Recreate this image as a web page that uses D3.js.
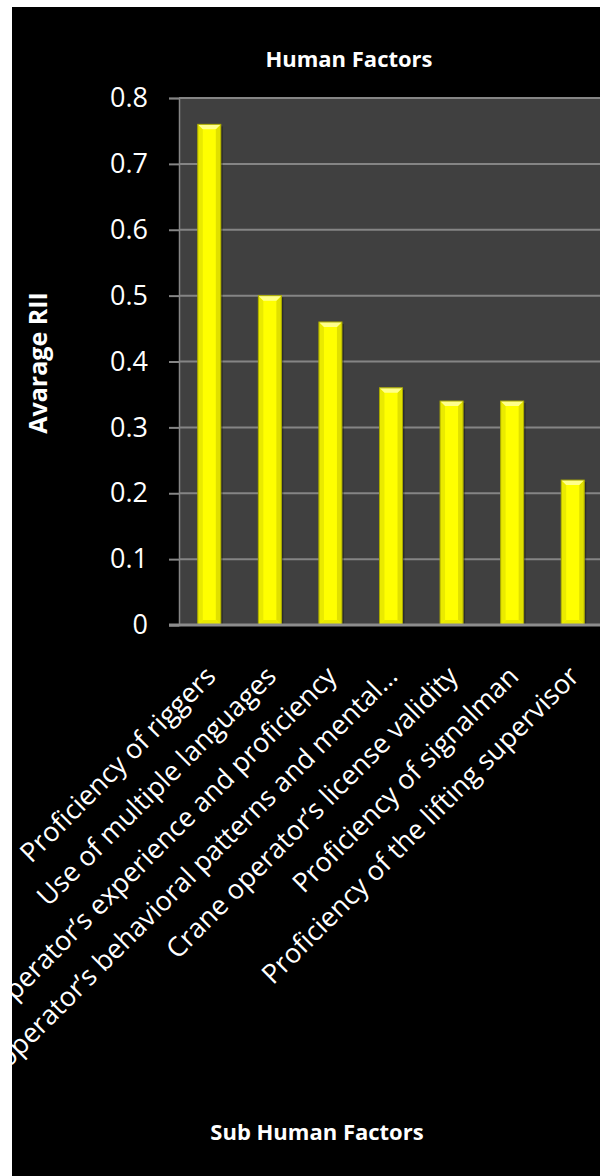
<!DOCTYPE html>
<html>
<head>
<meta charset="utf-8">
<script src="https://cdn.jsdelivr.net/npm/d3@7"></script>
<style>
  html, body { margin: 0; padding: 0; background: #fff; }
  svg { display: block; }
  text { font-family: "Open Sans", "DejaVu Sans", sans-serif; fill: #fff; }
</style>
</head>
<body>
<script>
// chart data
const categories = [
  "Proficiency of riggers",
  "Use of multiple languages",
  "Crane operator’s experience and proficiency",
  "Crane operator’s behavioral patterns and mental…",
  "Crane operator’s license validity",
  "Proficiency of signalman",
  "Proficiency of the lifting supervisor"
];
const avgRII = [0.76, 0.50, 0.46, 0.36, 0.34, 0.34, 0.22];
const yTicks = [0, 0.1, 0.2, 0.3, 0.4, 0.5, 0.6, 0.7, 0.8];

const chartTitle = "Human Factors";
const xTitle = "Sub Human Factors";
const yTitle = "Avarage RII";

const W = 600, H = 1176;
const plot = { left: 179, right: 603, top: 98, bottom: 625 };

var svg = d3.select("body").append("svg")
  .attr("width", W)
  .attr("height", H);

// chart area is black, white frame shows at the top and left
svg.append("clipPath").attr("id", "chart-clip")
  .append("rect")
  .attr("x", 12).attr("y", 7)
  .attr("width", W - 12).attr("height", H - 7);

svg.append("rect")
  .attr("x", 12).attr("y", 7)
  .attr("width", W - 12).attr("height", H - 7)
  .attr("fill", "#000");

var g = svg.append("g").attr("clip-path", "url(#chart-clip)");

var x = d3.scaleBand()
  .domain(categories)
  .range([plot.left, plot.right])
  .paddingInner(0.62)
  .paddingOuter(0.31);

var y = d3.scaleLinear()
  .domain([0, 0.8])
  .range([plot.bottom, plot.top]);

// plot area
g.append("rect")
  .attr("x", plot.left)
  .attr("y", plot.top)
  .attr("width", plot.right - plot.left)
  .attr("height", plot.bottom - plot.top)
  .attr("fill", "#404040");

// gridlines
g.append("g")
  .selectAll("line")
  .data(yTicks.filter(d => d > 0))
  .join("line")
  .attr("x1", plot.left)
  .attr("x2", plot.right)
  .attr("y1", d => y(d))
  .attr("y2", d => y(d))
  .attr("stroke", "#858585")
  .attr("stroke-width", 2);

// y axis
var yAxis = g.append("g")
  .attr("transform", "translate(" + plot.left + ",0)")
  .call(d3.axisLeft(y)
    .tickValues(yTicks)
    .tickFormat(d => d === 0 ? "0" : d3.format(".1f")(d))
    .tickSize(10)
    .tickPadding(21));
yAxis.select(".domain").attr("stroke", "#858585").attr("stroke-width", 1.5);
yAxis.selectAll(".tick line").attr("stroke", "#858585").attr("stroke-width", 2);
yAxis.selectAll(".tick text")
  .attr("fill", "#fff")
  .style("font-family", '"Open Sans", sans-serif')
  .style("font-size", "27px");

// bars, with a bevel like the excel style
var bw = x.bandwidth();
var bevel = 5;
var bars = g.append("g")
  .selectAll("g")
  .data(categories.map((c, i) => ({ cat: c, val: avgRII[i] })))
  .join("g")
  .attr("transform", d => "translate(" + x(d.cat) + "," + y(d.val) + ")");

bars.append("rect")
  .attr("x", 2).attr("y", 2)
  .attr("width", bw).attr("height", d => y(0) - y(d.val) - 2)
  .attr("fill", "#000").attr("opacity", 0.3);

bars.append("rect")
  .attr("width", bw)
  .attr("height", d => y(0) - y(d.val))
  .attr("fill", "#ffff00");

// side bevels
bars.append("polygon")
  .attr("points", d => {
    var h = y(0) - y(d.val);
    return [[0, 0], [bevel, bevel], [bevel, h - bevel], [0, h]].join(" ");
  })
  .attr("fill", "#eaea00");
bars.append("polygon")
  .attr("points", d => {
    var h = y(0) - y(d.val);
    return [[bw, 0], [bw - bevel, bevel], [bw - bevel, h - bevel], [bw, h]].join(" ");
  })
  .attr("fill", "#e0e000");
// top bevel
bars.append("polygon")
  .attr("points", [[0, 0], [bw, 0], [bw - bevel, bevel], [bevel, bevel]].join(" "))
  .attr("fill", "#ffff8c");
// bottom bevel
bars.append("polygon")
  .attr("points", d => {
    var h = y(0) - y(d.val);
    return [[0, h], [bw, h], [bw - bevel, h - bevel], [bevel, h - bevel]].join(" ");
  })
  .attr("fill", "#e8e800");

bars.append("rect")
  .attr("width", bw)
  .attr("height", d => y(0) - y(d.val))
  .attr("fill", "none")
  .attr("stroke", "#a8a800")
  .attr("stroke-width", 1);

// x axis line
g.append("line")
  .attr("x1", plot.left - 10)
  .attr("x2", plot.right)
  .attr("y1", plot.bottom)
  .attr("y2", plot.bottom)
  .attr("stroke", "#8c8c8c")
  .attr("stroke-width", 3);

// category labels, rotated (long ones run off the left edge, like the original)
g.append("g")
  .selectAll("text")
  .data(categories)
  .join("text")
  .attr("transform", d => "translate(" + (x(d) + bw / 2 + 8) + "," + 678 + ") rotate(-45)")
  .attr("text-anchor", "end")
  .style("font-size", "27px")
  .text(d => d);

// titles
g.append("text")
  .attr("x", 349)
  .attr("y", 67)
  .attr("text-anchor", "middle")
  .style("font-size", "22px")
  .style("font-weight", "bold")
  .text(chartTitle);

g.append("text")
  .attr("transform", "translate(47,363) rotate(-90)")
  .attr("text-anchor", "middle")
  .style("font-size", "25px")
  .style("font-weight", "bold")
  .text(yTitle);

g.append("text")
  .attr("x", 317)
  .attr("y", 1140)
  .attr("text-anchor", "middle")
  .style("font-size", "22px")
  .style("font-weight", "bold")
  .text(xTitle);
</script>
</body>
</html>
